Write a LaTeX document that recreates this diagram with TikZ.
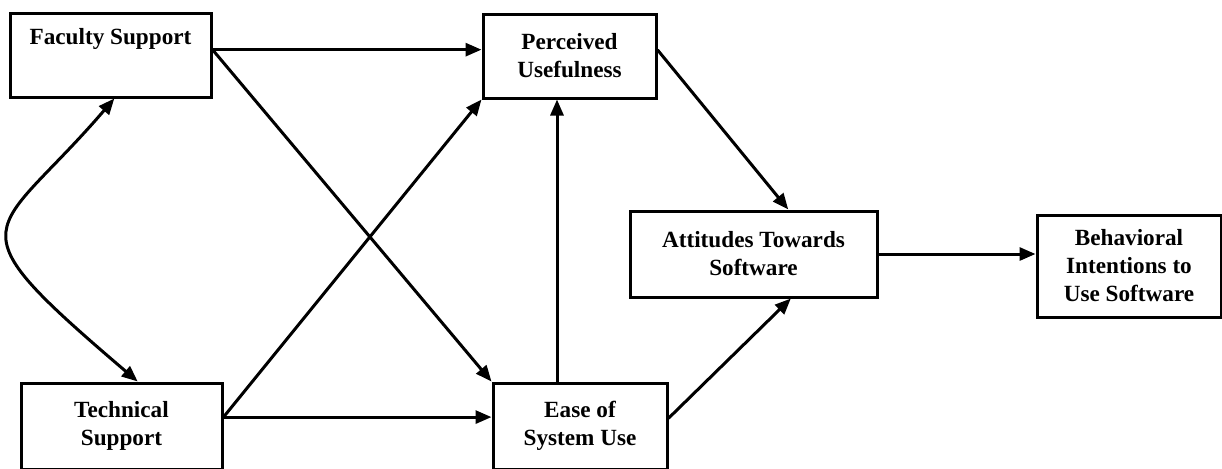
\documentclass[tikz,border=0pt]{standalone}
\usepackage{fontspec}
\setmainfont{Liberation Serif}
\usetikzlibrary{arrows.meta}
\begin{document}
\begin{tikzpicture}[x=0.5pt,y=-0.5pt,
    box/.style = {draw, line width=1.5pt, align=center, inner sep=0pt,
        font=\bfseries\fontsize{11.6}{14}\selectfont},
    arrow/.style = {line width=1.5pt,-{Triangle[length=8pt,width=6.5pt]}},
    twoway/.style = {line width=1.5pt,{Triangle[length=8pt,width=6.5pt]}-{Triangle[length=8pt,width=6.5pt]}}]
    \useasboundingbox (0,0) rectangle (1222,468);
    % boxes
    \node[box, minimum width=100.5pt, minimum height=42pt] (fac) at (110.5,55) {Faculty Support\\\strut};
    \node[box, minimum width=100.5pt, minimum height=43pt] (tec) at (121.5,426) {Technical\\Support};
    \node[box, minimum width=86.5pt, minimum height=42pt] (per) at (569.5,56) {Perceived\\Usefulness};
    \node[box, minimum width=87pt, minimum height=43pt] (eas) at (580,426) {Ease of\\System Use};
    \node[box, minimum width=123.5pt, minimum height=43pt] (att) at (753.5,254) {Attitudes Towards\\Software};
    \node[box, minimum width=92pt, minimum height=51pt] (beh) at (1129,266) {Behavioral\\Intentions to\\Use Software};
    \coordinate (up) at (557,0);
    % paths
    \draw[twoway] (fac.-85) .. controls (-7,240) and (-54,218) .. (tec.70);
    \draw[arrow] (fac.3) -- (fac.3 -| per.west);
    \draw[arrow] (fac.3) -- (eas.north west);
    \draw[arrow] (tec.5) -- (per.south west);
    \draw[arrow] (tec.5) -- (tec.5 -| eas.west);
    \draw[arrow] (eas.north -| up) -- (per.south -| up);
    \draw[arrow] (per.4) -- (att.52);
    \draw[arrow] (eas.5) -- (att.-50);
    \draw[arrow] (att.east) -- (att.east -| beh.west);
\end{tikzpicture}
\end{document}
